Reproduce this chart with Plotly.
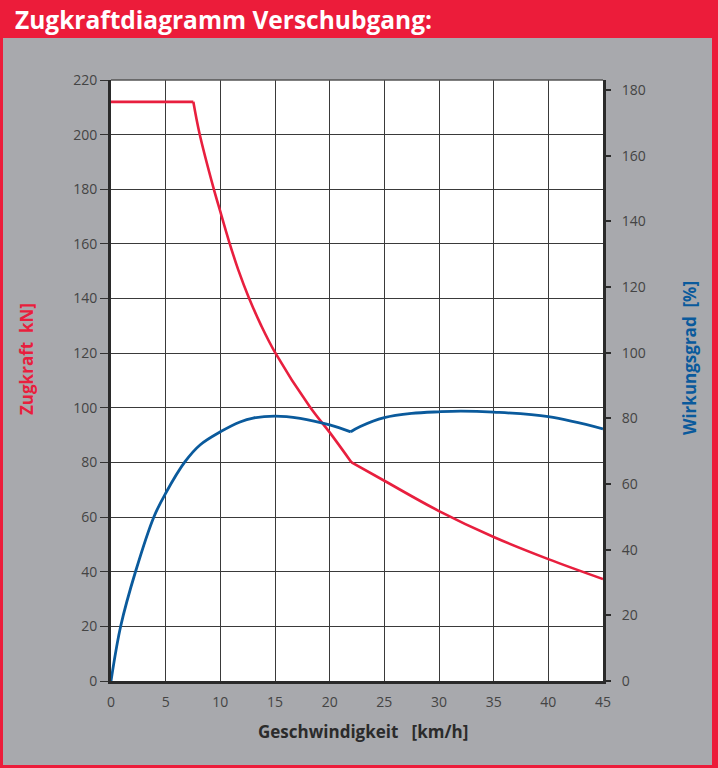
import plotly.graph_objects as go

# ---------------- data ----------------
zug_v = [0, 7.53, 8.08, 9.36, 10, 10.82, 11.65, 12.6, 13.75, 15, 18.2, 20, 22, 25, 30, 35, 40, 45]
zug_f = [212, 212, 200.7, 180.7, 171.8, 160.6, 150.4, 140.4, 130, 120.3, 100.3, 91, 80, 73.3, 62.2, 52.7, 44.6, 37.3]
zug_kinks = [1, 12]          # indices where the curve has a corner

eta_v = [0, 0.89, 2.26, 3.93, 5, 6.77, 8.14, 10, 11.8, 13.0, 15, 17.3, 20, 21.93,
         22.8, 25, 27.5, 30, 32, 35, 40, 45]
eta_w = [0, 16.75, 33.5, 50.05, 57.2, 66.8, 71.9, 75.9, 78.9, 80.1, 80.7, 80.0, 78.0, 75.9,
         77.5, 80.2, 81.5, 82.0, 82.2, 81.9, 80.5, 76.8]
eta_kinks = [13]

x_ticks = [0, 5, 10, 15, 20, 25, 30, 35, 40, 45]
y_left_ticks = [0, 20, 40, 60, 80, 100, 120, 140, 160, 180, 200, 220]
y_right_ticks = [0, 20, 40, 60, 80, 100, 120, 140, 160, 180]

title_text = "Zugkraftdiagramm Verschubgang:"
x_title = "Geschwindigkeit   [km/h]"
y_left_title = "Zugkraft  kN]"
y_right_title = "Wirkungsgrad  [%]"

# ---------------- style ----------------
RED = "#EC1C3A"
LINE_RED = "#E81F3E"
BLUE = "#0A5A9C"
GRAY_BG = "#A8A9AD"
DARK = "#2a2a2a"
GRID = "#3a3a3a"
TICKFONT = dict(family="Open Sans", size=14, color="#444444")

W_FIG, H_FIG = 718, 768
L, R, T, B = 111, 603, 80, 681


def px2x(px):
    return (px - L) / (R - L)


def py2y(py):
    return (B - py) / (B - T)


def segments(xs, ys, kinks):
    cuts = [0] + kinks + [len(xs) - 1]
    for a, b in zip(cuts[:-1], cuts[1:]):
        yield xs[a:b + 1], ys[a:b + 1]


fig = go.Figure()

for sx, sy in segments(zug_v, zug_f, zug_kinks):
    fig.add_trace(go.Scatter(x=sx, y=sy, mode="lines", yaxis="y",
                             line=dict(color=LINE_RED, width=2.6, shape="spline", smoothing=1.0),
                             showlegend=False, hoverinfo="skip"))

for sx, sy in segments(eta_v, eta_w, eta_kinks):
    fig.add_trace(go.Scatter(x=sx, y=sy, mode="lines", yaxis="y2",
                             line=dict(color=BLUE, width=2.8, shape="spline", smoothing=1.0),
                             showlegend=False, hoverinfo="skip"))

shapes = [
    # header band
    dict(type="rect", xref="paper", yref="paper", x0=px2x(0), x1=px2x(W_FIG),
         y0=py2y(38), y1=py2y(0), fillcolor=RED, line_width=0, layer="below"),
    # red frame
    dict(type="rect", xref="paper", yref="paper", x0=px2x(0), x1=px2x(3),
         y0=py2y(H_FIG), y1=py2y(0), fillcolor=RED, line_width=0),
    dict(type="rect", xref="paper", yref="paper", x0=px2x(712), x1=px2x(W_FIG),
         y0=py2y(H_FIG), y1=py2y(0), fillcolor=RED, line_width=0),
    dict(type="rect", xref="paper", yref="paper", x0=px2x(0), x1=px2x(W_FIG),
         y0=py2y(H_FIG), y1=py2y(765), fillcolor=RED, line_width=0),
    # thin top border of plot
    dict(type="line", xref="paper", yref="paper", x0=0, x1=1, y0=1, y1=1,
         line=dict(color="#555555", width=1.5)),
]

annotations = [
    dict(text=f"<b>{title_text}</b>", xref="paper", yref="paper",
         x=px2x(13), y=py2y(19), xanchor="left", yanchor="middle", showarrow=False,
         font=dict(family="Open Sans", size=24.5, color="white")),
    dict(text=f"<b>{y_left_title}</b>", xref="paper", yref="paper",
         x=px2x(26), y=py2y(359), xanchor="center", yanchor="middle", showarrow=False,
         textangle=-90, font=dict(family="Open Sans", size=17, color=LINE_RED)),
    dict(text=f"<b>{y_right_title}</b>", xref="paper", yref="paper",
         x=px2x(689), y=py2y(358), xanchor="center", yanchor="middle", showarrow=False,
         textangle=-90, font=dict(family="Open Sans", size=17, color=BLUE)),
    dict(text=f"<b>{x_title}</b>", xref="paper", yref="paper",
         x=px2x(363), y=py2y(731), xanchor="center", yanchor="middle", showarrow=False,
         font=dict(family="Open Sans", size=17, color="#2b2b2b")),
]

fig.update_layout(
    width=W_FIG, height=H_FIG,
    margin=dict(l=L, r=W_FIG - R, t=T, b=H_FIG - B, pad=0),
    paper_bgcolor=GRAY_BG, plot_bgcolor="white",
    showlegend=False,
    shapes=shapes, annotations=annotations,
    xaxis=dict(range=[0, 45], tickvals=x_ticks, ticktext=[str(v) for v in x_ticks],
               showgrid=True, gridcolor=GRID, gridwidth=1,
               showline=True, linecolor=DARK, linewidth=3,
               ticks="", tickfont=TICKFONT, ticklabelstandoff=6,
               zeroline=False, fixedrange=True),
    yaxis=dict(range=[0, 220], tickvals=y_left_ticks, ticktext=[str(v) for v in y_left_ticks],
               showgrid=True, gridcolor=GRID, gridwidth=1,
               showline=True, linecolor=DARK, linewidth=3,
               ticks="outside", ticklen=8, tickwidth=1, tickcolor="#333333",
               tickfont=TICKFONT, zeroline=False, fixedrange=True),
    yaxis2=dict(range=[0, 183.06], tickvals=y_right_ticks, ticktext=[str(v) for v in y_right_ticks],
                overlaying="y", side="right", showgrid=False,
                showline=True, linecolor=DARK, linewidth=3,
                ticks="outside", ticklen=5, tickwidth=2, tickcolor=DARK,
                tickfont=TICKFONT, ticklabelstandoff=8, zeroline=False, fixedrange=True),
    yaxis3=dict(range=[0, 183.06], tickvals=y_right_ticks, overlaying="y", side="right",
                showgrid=False, showline=False, ticks="inside", ticklen=5, tickwidth=2,
                tickcolor=DARK, showticklabels=False, zeroline=False, fixedrange=True),
)

fig.write_html("out.html", config={"displayModeBar": False},
               post_script="document.body.style.margin='0';document.body.style.overflow='hidden';")
